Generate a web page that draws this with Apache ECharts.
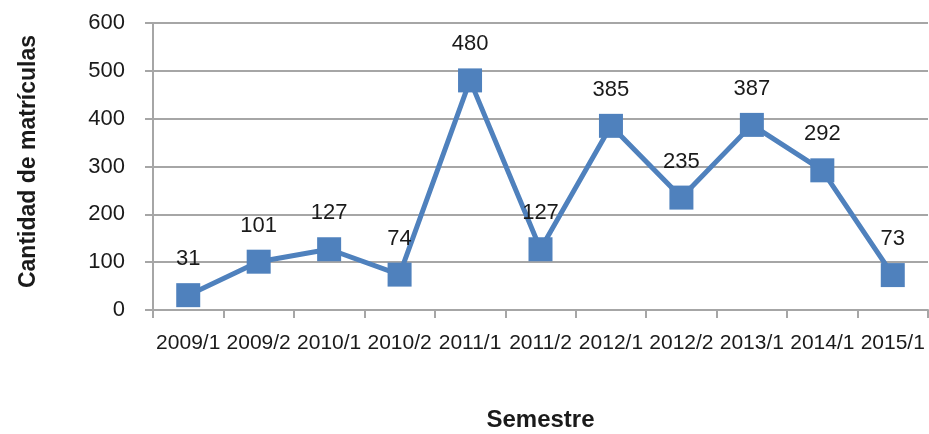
<!DOCTYPE html>
<html>
<head>
<meta charset="utf-8">
<script src="https://cdn.jsdelivr.net/npm/echarts@6/dist/echarts.min.js"></script>
<style>
  html, body { margin: 0; padding: 0; background: #fff; }
  #chart { width: 929px; height: 434px; }
</style>
</head>
<body>
<div id="chart"></div>
<script>
// Enrolments per semester
const semesters = ['2009/1', '2009/2', '2010/1', '2010/2', '2011/1', '2011/2',
                   '2012/1', '2012/2', '2013/1', '2014/1', '2015/1'];
const enrolments = [31, 101, 127, 74, 480, 127, 385, 235, 387, 292, 73];
const yTicks = [0, 100, 200, 300, 400, 500, 600];

const FONT = '"Liberation Sans", Arial, sans-serif';
const GRID_GRAY = '#a6a6a6';
const TEXT = '#1a1a1a';

const chart = echarts.init(document.getElementById('chart'), null, { renderer: 'canvas' });

chart.setOption({
  animation: false,
  backgroundColor: '#ffffff',
  grid: {
    left: 153, right: 1, top: 23, bottom: 124,
    containLabel: false,
    outerBoundsMode: 'none'
  },
  xAxis: {
    type: 'category',
    data: semesters,
    boundaryGap: true,
    name: 'Semestre',
    nameLocation: 'middle',
    nameGap: 98,
    nameTextStyle: { fontFamily: FONT, fontWeight: 'bold', fontSize: 24, color: TEXT },
    axisLine: { lineStyle: { color: GRID_GRAY, width: 2 } },
    axisTick: { show: true, alignWithLabel: false, length: 8, lineStyle: { color: GRID_GRAY, width: 2 } },
    axisLabel: { interval: 0, margin: 23, fontFamily: FONT, fontSize: 21, color: TEXT },
    splitLine: { show: false }
  },
  yAxis: {
    type: 'value',
    min: yTicks[0],
    max: yTicks[yTicks.length - 1],
    interval: yTicks[1] - yTicks[0],
    name: 'Cantidad de matrículas',
    nameLocation: 'middle',
    nameGap: 113,
    nameRotate: 90,
    nameTextStyle: {
      fontFamily: FONT, fontWeight: 'bold', fontSize: 23, color: TEXT,
      padding: [0, 0, 0, 10]
    },
    axisLine: { show: true, lineStyle: { color: GRID_GRAY, width: 2 } },
    axisTick: { show: true, length: 8, lineStyle: { color: GRID_GRAY, width: 2 } },
    axisLabel: { margin: 28, fontFamily: FONT, fontSize: 22, color: TEXT },
    splitLine: { show: true, lineStyle: { color: GRID_GRAY, width: 2 } }
  },
  series: [{
    type: 'line',
    data: enrolments,
    symbol: 'rect',
    symbolSize: 24,
    lineStyle: { color: '#4f81bd', width: 5 },
    itemStyle: { color: '#4f81bd' },
    label: {
      show: true,
      position: 'top',
      distance: 13,
      fontFamily: FONT,
      fontSize: 22,
      color: TEXT
    },
    z: 3
  }]
});
</script>
</body>
</html>
